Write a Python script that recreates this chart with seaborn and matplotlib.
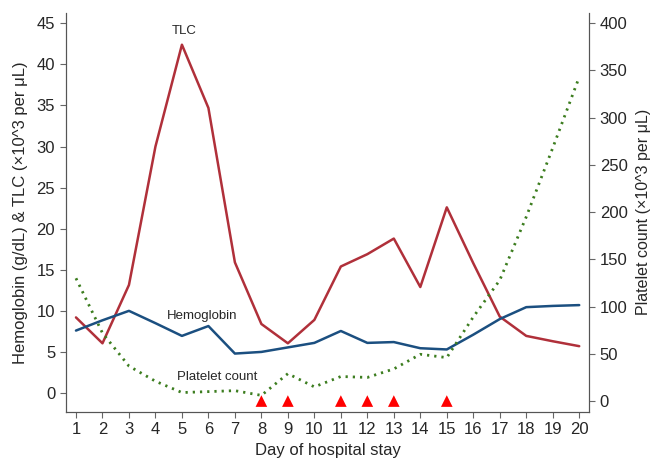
import numpy as np
import pandas as pd
import seaborn as sns
import matplotlib.pyplot as plt

days = list(range(1, 21))
tlc = [9.2, 6.05, 13.15, 30.0, 42.4, 34.7, 15.9, 8.4, 6.05, 8.9,
       15.4, 16.9, 18.8, 12.9, 22.6, 15.8, 9.3, 6.95, 6.3, 5.7]
hemoglobin = [7.6, 8.85, 10.0, 8.5, 6.95, 8.15, 4.8, 5.0, 5.55, 6.1,
              7.55, 6.1, 6.2, 5.45, 5.3, 7.1, 9.0, 10.45, 10.6, 10.7]
platelets = [130, 72, 37, 21, 9, 10, 11, 6, 29, 15,
             26, 25, 34, 49.5, 46, 89, 128, 195, 268, 343]
transfusion_days = [8, 9, 11, 12, 13, 15]
transfusion_level = [0, 0, 0, 0, 0, 0]

df = pd.DataFrame({"day": days, "tlc": tlc, "hb": hemoglobin, "plt": platelets})
tf = pd.DataFrame({"day": transfusion_days, "level": transfusion_level})

sns.set_style("ticks")
plt.rcParams['font.family'] = ['Liberation Sans', 'DejaVu Sans']

fig = plt.figure(figsize=(6.5, 4.59), dpi=100)
ax = fig.add_axes([0.101, 0.103, 0.8056, 0.8694])
ax2 = ax.twinx()

red = "#b0303a"
blue = "#1b4f80"
green = "#3c7d1f"

sns.lineplot(data=df, x="day", y="tlc", ax=ax, color=red, lw=1.8)
sns.lineplot(data=df, x="day", y="hb", ax=ax, color=blue, lw=1.8)
sns.lineplot(data=df, x="day", y="plt", ax=ax2, color=green, lw=2.0,
             linestyle=(0, (0.8, 1.8)))
sns.scatterplot(data=tf, x="day", y="level", ax=ax2, color="#ff0000",
                marker="^", s=70, edgecolor="none", zorder=5)

ax.set_xlim(0.61, 20.38)
ax.set_ylim(-2.28, 46.3)
ax2.set_ylim(-11.3, 411.2)
ax.set_xticks(days)
ax.set_yticks(range(0, 46, 5))
ax2.set_yticks(range(0, 401, 50))

ax.set_xlabel("Day of hospital stay", fontsize=12, labelpad=4)
ax.set_ylabel("Hemoglobin (g/dL) & TLC (\u00d710^3 per \u03bcL)", fontsize=12,
              labelpad=6)
ax2.set_ylabel("Platelet count (\u00d710^3 per \u03bcL)", fontsize=11.5, labelpad=6)

for a in (ax, ax2):
    a.tick_params(labelsize=12, length=4, color="#666666")
    a.spines["top"].set_visible(False)
    for s in ("left", "right", "bottom"):
        a.spines[s].set_color("#555555")
ax2.spines["right"].set_visible(True)

ax.text(5.08, 43.3, "TLC", fontsize=9.5, ha="center", va="bottom")
ax.text(5.76, 8.6, "Hemoglobin", fontsize=9.5, ha="center", va="bottom")
ax.text(6.32, 1.2, "Platelet count", fontsize=9.5, ha="center", va="bottom")

fig.savefig("out.png", dpi=100)
